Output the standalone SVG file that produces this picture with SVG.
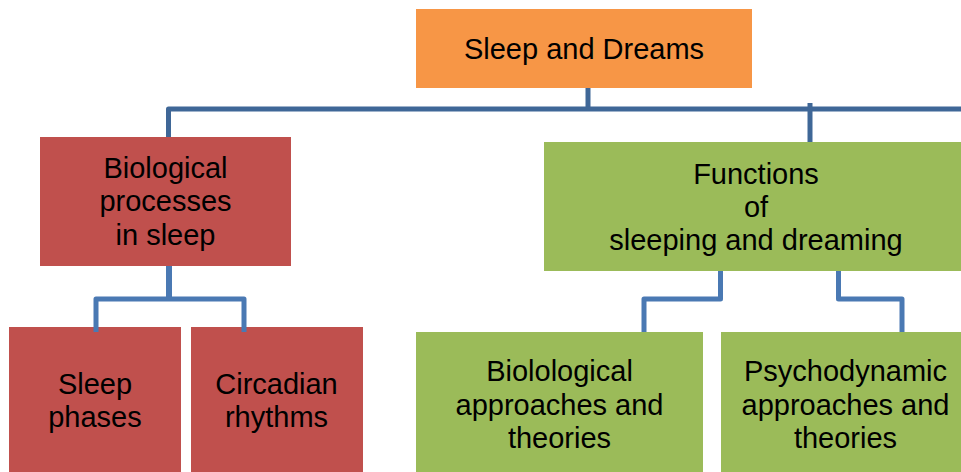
<svg xmlns="http://www.w3.org/2000/svg" width="961" height="472" viewBox="0 0 961 472">
  <style>
    .box-orange { fill: #F79646; }
    .box-red { fill: #C0504D; }
    .box-green { fill: #9BBB59; }
    .label { font-family: "Liberation Sans", Arial, sans-serif; font-size: 29px; fill: #000000; text-anchor: middle; }
    .link-main { fill: none; stroke: #3F6797; stroke-width: 5; stroke-linejoin: round; }
    .link-sub { fill: none; stroke: #4A79B3; stroke-width: 5; stroke-linejoin: round; }
  </style>
  <rect width="961" height="472" fill="#FFFFFF"/>

  <!-- boxes sit underneath the connectors -->
  <g id="node-root">
    <rect class="box-orange" x="416" y="9" width="336" height="79"/>
    <text class="label" x="584" y="59">Sleep and Dreams</text>
  </g>

  <g id="node-biological-processes">
    <rect class="box-red" x="40" y="137" width="251" height="129"/>
    <text class="label" x="165.5" y="177.5">Biological</text>
    <text class="label" x="165.5" y="211">processes</text>
    <text class="label" x="165.5" y="244.5">in sleep</text>
  </g>

  <g id="node-functions">
    <rect class="box-green" x="544" y="142" width="426" height="129"/>
    <text class="label" x="756" y="183.5">Functions</text>
    <text class="label" x="756" y="216.5">of</text>
    <text class="label" x="756" y="249.5">sleeping and dreaming</text>
  </g>

  <g id="node-sleep-phases">
    <rect class="box-red" x="9" y="327" width="172" height="150"/>
    <text class="label" x="95" y="393.5">Sleep</text>
    <text class="label" x="95" y="426.5">phases</text>
  </g>

  <g id="node-circadian">
    <rect class="box-red" x="191" y="327" width="172" height="150"/>
    <text class="label" x="276.5" y="393.5">Circadian</text>
    <text class="label" x="276.5" y="426.5">rhythms</text>
  </g>

  <g id="node-biological-approaches">
    <rect class="box-green" x="416" y="332" width="287" height="145"/>
    <text class="label" x="559.5" y="381">Biolological</text>
    <text class="label" x="559.5" y="414.5">approaches and</text>
    <text class="label" x="559.5" y="448">theories</text>
  </g>

  <g id="node-psychodynamic">
    <rect class="box-green" x="721" y="332" width="249" height="145"/>
    <text class="label" x="845.5" y="381">Psychodynamic</text>
    <text class="label" x="845.5" y="414.5">approaches and</text>
    <text class="label" x="845.5" y="448">theories</text>
  </g>

  <g id="connectors">
    <!-- root bus -->
    <path class="link-main" d="M588 88 V109"/>
    <path class="link-main" d="M168.5 137 V109 H965"/>
    <path class="link-main" d="M810 103 V142"/>
    <!-- biological processes branch -->
    <path class="link-sub" d="M169 266 V299" style="stroke-width:6"/>
    <path class="link-sub" d="M96 332 V299 H244 V332"/>
    <!-- functions branch -->
    <path class="link-sub" d="M720.5 271 V299 H644 V332"/>
    <path class="link-sub" d="M838.5 271 V299 H902 V332"/>
  </g>
</svg>
